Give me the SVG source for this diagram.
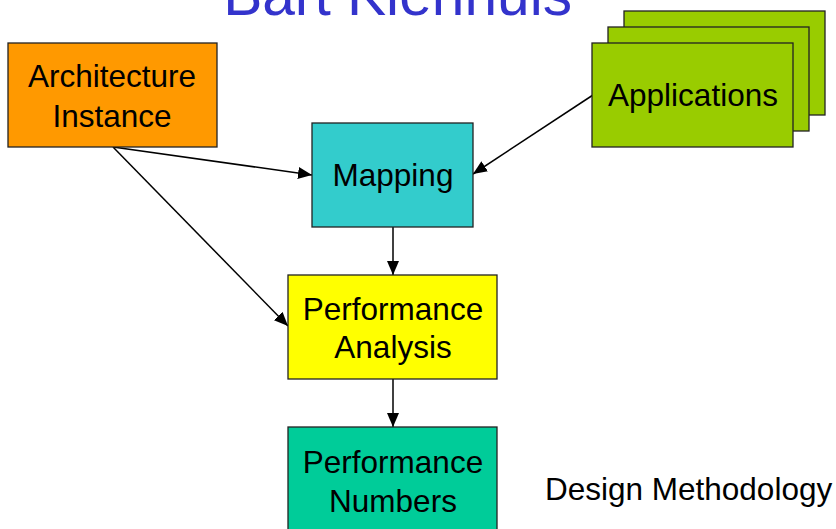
<svg xmlns="http://www.w3.org/2000/svg" width="836" height="529" viewBox="0 0 836 529">
  <style>
    .box { stroke: #222; stroke-width: 1.3; }
    .lbl { font-family: "Liberation Sans", Arial, sans-serif; font-size: 31.5px; fill: #000; text-anchor: middle; }
    .title { font-family: "Liberation Sans", Arial, sans-serif; font-size: 58.67px; fill: #3333CC; text-anchor: end; }
    .note { font-family: "Liberation Sans", Arial, sans-serif; font-size: 31.5px; fill: #000; }
    .link { stroke: #000; stroke-width: 1.5; fill: none; marker-end: url(#arrow); }
  </style>
  <defs>
    <marker id="arrow" markerUnits="userSpaceOnUse" markerWidth="14" markerHeight="12" viewBox="0 0 14 12" refX="14" refY="6" orient="auto">
      <path d="M0,0 L14,6 L0,12 z" fill="#000"/>
    </marker>
  </defs>
  <rect width="836" height="529" fill="#fff"/>

  <text class="title" x="572" y="15">Bart Kienhuis</text>

  <g id="connectors">
    <line class="link" x1="113" y1="147" x2="312" y2="175"/>
    <line class="link" x1="113" y1="147" x2="288" y2="326"/>
    <line class="link" x1="593" y1="95" x2="473" y2="174"/>
    <line class="link" x1="393" y1="227" x2="393" y2="275"/>
    <line class="link" x1="393" y1="379" x2="393" y2="427"/>
  </g>

  <g id="architecture">
    <rect class="box" x="8" y="43" width="209" height="104" fill="#FF9900"/>
    <text class="lbl" x="112" y="87">Architecture</text>
    <text class="lbl" x="112" y="127">Instance</text>
  </g>

  <g id="applications">
    <rect class="box" x="624" y="11" width="201" height="104" fill="#99CC00"/>
    <rect class="box" x="608" y="27" width="201" height="104" fill="#99CC00"/>
    <rect class="box" x="592" y="43" width="201" height="104" fill="#99CC00"/>
    <text class="lbl" x="693" y="106">Applications</text>
  </g>

  <g id="mapping">
    <rect class="box" x="312" y="123" width="161" height="104" fill="#33CCCC"/>
    <text class="lbl" x="393" y="186">Mapping</text>
  </g>

  <g id="performance-analysis">
    <rect class="box" x="288" y="275" width="209" height="104" fill="#FFFF00"/>
    <text class="lbl" x="393" y="320">Performance</text>
    <text class="lbl" x="393" y="358">Analysis</text>
  </g>

  <g id="performance-numbers">
    <rect class="box" x="288" y="427" width="209" height="110" fill="#00CC99"/>
    <text class="lbl" x="393" y="473">Performance</text>
    <text class="lbl" x="393" y="512">Numbers</text>
  </g>

  <text class="note" x="545" y="500">Design Methodology</text>
</svg>
